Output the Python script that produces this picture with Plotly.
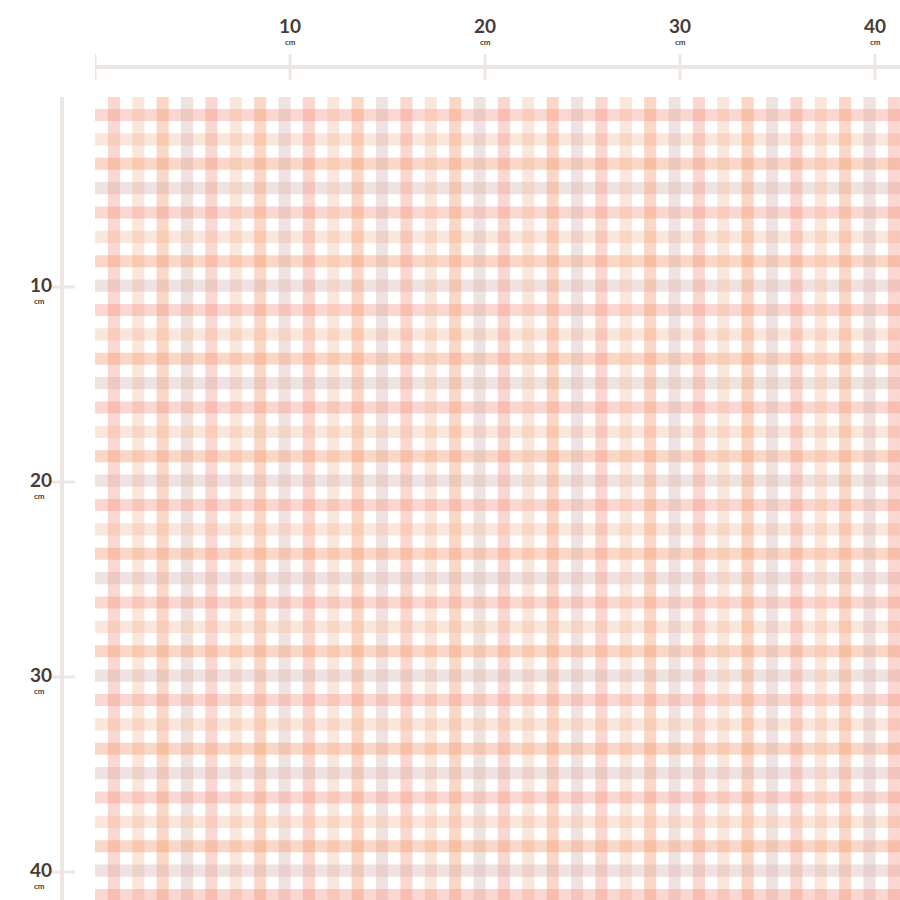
import plotly.graph_objects as go

ticks = [10, 20, 30, 40]
stripe_cycle = ["rgba(244,150,135,0.38)", "rgba(244,190,160,0.38)",
                "rgba(242,160,120,0.42)", "rgba(215,180,175,0.38)"]
n_stripes = 34
pitch = 1.25
v_offset = 0.97
h_offset = 1.18
half_w = 0.31

W, H, L, T = 900, 900, 95, 97
pxcm = 19.5
x0, x1 = 0, (W - L) / pxcm
y0 = (T - 92) / pxcm
y1 = y0 + (H - T) / pxcm

def py(p):
    return 1 + (T - p) / (H - T)
def px(p):
    return (p - L) / (W - L)

shapes = []
for i in range(n_stripes):
    c = stripe_cycle[i % 4]
    cx = v_offset + i * pitch
    shapes.append(dict(type="rect", xref="x", yref="paper", x0=cx - half_w, x1=cx + half_w,
                       y0=0, y1=1, fillcolor=c, line_width=0, layer="below"))
    cy = h_offset + i * pitch
    shapes.append(dict(type="rect", xref="paper", yref="y", x0=0, x1=1,
                       y0=cy - half_w, y1=cy + half_w, fillcolor=c, line_width=0, layer="below"))

rc = "#ede7e3"
shapes.append(dict(type="line", xref="x", yref="paper", x0=0, x1=x1, y0=py(67), y1=py(67),
                   line=dict(color=rc, width=4)))
shapes.append(dict(type="line", xref="paper", yref="y", x0=px(62), x1=px(62), y0=y0 - 0.15, y1=y1,
                   line=dict(color=rc, width=4)))
annotations = []
for t in [0] + ticks:
    shapes.append(dict(type="line", xref="x", yref="paper", x0=t, x1=t, y0=py(54), y1=py(80),
                       line=dict(color=rc, width=3)))
for t in ticks:
    shapes.append(dict(type="line", xref="paper", yref="y", x0=px(49), x1=px(75), y0=t, y1=t,
                       line=dict(color=rc, width=3)))
fc = "#4a3b36"
for t in ticks:
    annotations.append(dict(x=t, y=py(25), xref="x", yref="paper", text=f"<b>{t}</b>", showarrow=False,
                            font=dict(size=19, color=fc, family="Lato"), yanchor="middle"))
    annotations.append(dict(x=t, y=py(42), xref="x", yref="paper", text="<b>cm</b>", showarrow=False,
                            font=dict(size=8, color=fc, family="Lato"), yanchor="middle"))
    annotations.append(dict(x=px(28), y=t, xref="paper", yref="y", text=f"<b>{t}</b>", showarrow=False,
                            font=dict(size=19, color=fc, family="Lato"), yanchor="middle", yshift=3))
    annotations.append(dict(x=px(32), y=t, xref="paper", yref="y", text="<b>cm</b>", showarrow=False,
                            font=dict(size=8, color=fc, family="Lato"), yanchor="middle", yshift=-14))

fig = go.Figure(go.Scatter(x=[], y=[]))
fig.update_layout(width=W, height=H, margin=dict(l=L, r=0, t=T, b=0),
                  paper_bgcolor="white", plot_bgcolor="white", showlegend=False,
                  shapes=shapes, annotations=annotations,
                  xaxis=dict(range=[x0, x1], visible=False),
                  yaxis=dict(range=[y1, y0], visible=False))
fig.write_html("out.html", config={"displayModeBar": False},
               post_script="document.body.style.margin='0';document.body.style.overflow='hidden';")
